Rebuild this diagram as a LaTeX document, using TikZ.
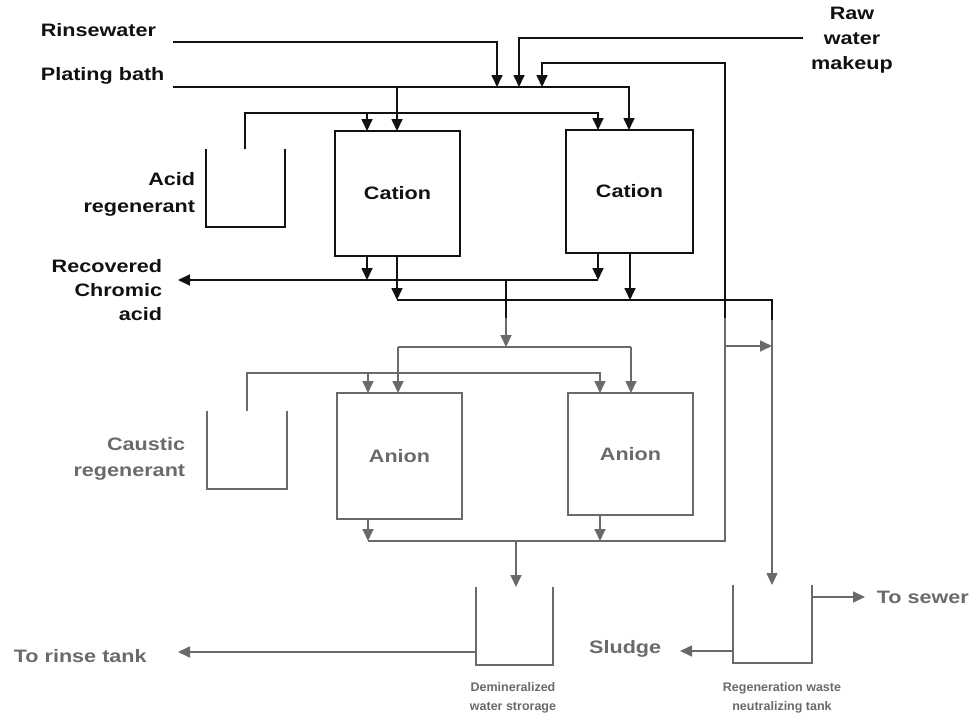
\documentclass[tikz,border=0pt]{standalone}
\usepackage{fontspec}
\setmainfont[FakeStretch=1.2]{Liberation Sans}
\newfontfamily\smallfont{Liberation Sans}
\usetikzlibrary{arrows.meta}
\definecolor{ink}{HTML}{111111}
\definecolor{ginkc}{HTML}{6A6A6A}
\begin{document}
\begin{tikzpicture}[x=1pt,y=-1pt,
  line width=1.7pt, draw=ink,
  arr/.style={-{Triangle[length=12pt,width=11pt]}},
  gr/.style={draw=ginkc},
  box/.style={draw=ink, inner sep=0pt, outer sep=0pt, text=ink, font=\bfseries\fontsize{18}{20}\selectfont},
  gbox/.style={draw=ginkc, inner sep=0pt, outer sep=0pt, text=ginkc, font=\bfseries\fontsize{18}{20}\selectfont},
  tank/.style={inner sep=0pt, outer sep=0pt},
  lbl/.style={inner sep=0pt, text=ink, font=\bfseries\fontsize{18}{#1}\selectfont},
  lbl/.default=25,
  glbl/.style={inner sep=0pt, text=ginkc, font=\bfseries\fontsize{18}{#1}\selectfont},
  glbl/.default=26,
  slbl/.style={inner sep=0pt, text=ginkc, align=center, font=\smallfont\bfseries\fontsize{12.5}{19}\selectfont}
]
\useasboundingbox (0,0) rectangle (977,715);

% ---------- vessels ----------
\node[box, minimum width=125pt, minimum height=125pt] (cat1) at (397.5,193.5) {Cation};
\node[box, minimum width=127pt, minimum height=123pt] (cat2) at (629.5,191.5) {Cation};
\node[gbox, minimum width=125pt, minimum height=126pt] (an1) at (399.5,456) {Anion};
\node[gbox, minimum width=125pt, minimum height=122pt] (an2) at (630.5,454) {Anion};

\node[tank, minimum width=79pt, minimum height=78pt] (acid) at (245.5,188) {};
\node[tank, minimum width=80pt, minimum height=78pt] (caus) at (247,450) {};
\node[tank, minimum width=77pt, minimum height=78pt] (demin) at (514.5,626) {};
\node[tank, minimum width=79pt, minimum height=78pt] (neut) at (772.5,624) {};

\draw (acid.north west) |- (acid.south east) -- (acid.north east);
\draw[gr] (caus.north west) |- (caus.south east) -- (caus.north east);
\draw[gr] (demin.north west) |- (demin.south east) -- (demin.north east);
\draw[gr] (neut.north west) |- (neut.south east) -- (neut.north east);

% ---------- labels ----------
\node[lbl, anchor=west] (trinse) at (40,30) {Rinsewater};
\node[lbl, anchor=west] (tplate) at (40,76) {Plating bath};
\node[lbl, align=center] (traw) at (852,40) {Raw\\water\\makeup};
\node[lbl=27, align=right, anchor=east] (tacid) at (196,194) {Acid\\regenerant};
\node[lbl=24, align=right, anchor=east] (trec) at (163,290) {Recovered\\Chromic\\acid};
\node[glbl, align=right, anchor=east] (tcaus) at (186,459) {Caustic\\regenerant};
\node[glbl, anchor=west] (tsewer) at (876,597) {To sewer};
\node[glbl, anchor=east] (tsludge) at (662,649) {Sludge};
\node[glbl, anchor=west] (trinsetank) at (13,656) {To rinse tank};
\node[slbl] (tdemin) at (513,698) {Demineralized\\water strorage};
\node[slbl] (tneut) at (782,698) {Regeneration waste\\neutralizing tank};

% ---------- junction coordinates ----------
\coordinate (rwS) at (173,42);  \coordinate (rwC) at (497,42);
\coordinate (pbS) at (173,87);  \coordinate (pbE) at (629,87);  \coordinate (pb1) at (397,87);
\coordinate (rawS) at (803,38); \coordinate (rawC) at (519,38);
\coordinate (recTop) at (725,63); \coordinate (recL) at (542,63); \coordinate (recM) at (725,318);
\coordinate (acT) at (245,113); \coordinate (acE) at (598,113); \coordinate (ac1) at (367,113);
\coordinate (rcL) at (178,280); \coordinate (rcR) at (598,280); \coordinate (c1a) at (367,280);
\coordinate (c1b) at (397,300); \coordinate (c2b) at (630,300); \coordinate (wR) at (772,300);
\coordinate (wM) at (772,320);
\coordinate (fA) at (506,280); \coordinate (fM) at (506,318); \coordinate (fB) at (506,347);
\coordinate (d1) at (398,347); \coordinate (d2) at (631,347);
\coordinate (cT) at (247,373); \coordinate (cE) at (600,373); \coordinate (c1) at (368,373);
\coordinate (o1) at (368,541); \coordinate (o2) at (600,541); \coordinate (oR) at (725,541); \coordinate (oD) at (516,541);
\coordinate (bL) at (725,346);
\coordinate (dOut) at (476,652); \coordinate (dTip) at (178,652);
\coordinate (sOut) at (812,597); \coordinate (sTip) at (865,597);
\coordinate (slOut) at (733,651); \coordinate (slTip) at (680,651);

% ---------- top feeds ----------
\draw[arr] (rwS) -- (rwC) -- (rwC |- pbS);
\draw[arr] (rawS) -- (rawC) -- (rawC |- pbS);
\draw[arr] (pbS) -- (pbE) -- (pbE |- cat2.north);
\draw[arr] (pb1) -- (pb1 |- cat1.north);
\draw[arr] (recM) -- (recTop) -- (recL) -- (recL |- pbS);

% acid regenerant
\draw[arr] (acid.north -| acT) -- (acT) -- (acE) -- (acE |- cat2.north);
\draw[arr] (ac1) -- (ac1 |- cat1.north);

% cation outlets
\draw[arr] (cat1.south -| c1a) -- (c1a);
\draw[arr] (cat2.south -| rcR) -- (rcR);
\draw[arr] (rcR) -- (rcL);
\draw[arr] (cat1.south -| c1b) -- (c1b);
\draw[arr] (cat2.south -| c2b) -- (c2b);
\draw (c1b) -- (wR) -- (wM);
\draw[gr, arr] (wM) -- (wM |- neut.north);

% feed to anions
\draw (fA) -- (fM);
\draw[gr, arr] (fM) -- (fB);
\draw[gr] (d1) -- (d2);
\draw[gr, arr] (d1) -- (d1 |- an1.north);
\draw[gr, arr] (d2) -- (d2 |- an2.north);

% caustic regenerant
\draw[gr, arr] (caus.north -| cT) -- (cT) -- (cE) -- (cE |- an2.north);
\draw[gr, arr] (c1) -- (c1 |- an1.north);

% anion outlets
\draw[gr, arr] (an1.south -| o1) -- (o1);
\draw[gr, arr] (an2.south -| o2) -- (o2);
\draw[gr] (o1) -- (oR) -- (recM);
\draw[gr, arr] (oD) -- (oD |- demin.north);
\draw[gr, arr] (bL) -- (bL -| wR);

% outputs
\draw[gr, arr] (dOut) -- (dTip);
\draw[gr, arr] (sOut) -- (sTip);
\draw[gr, arr] (slOut) -- (slTip);
\end{tikzpicture}
\end{document}
